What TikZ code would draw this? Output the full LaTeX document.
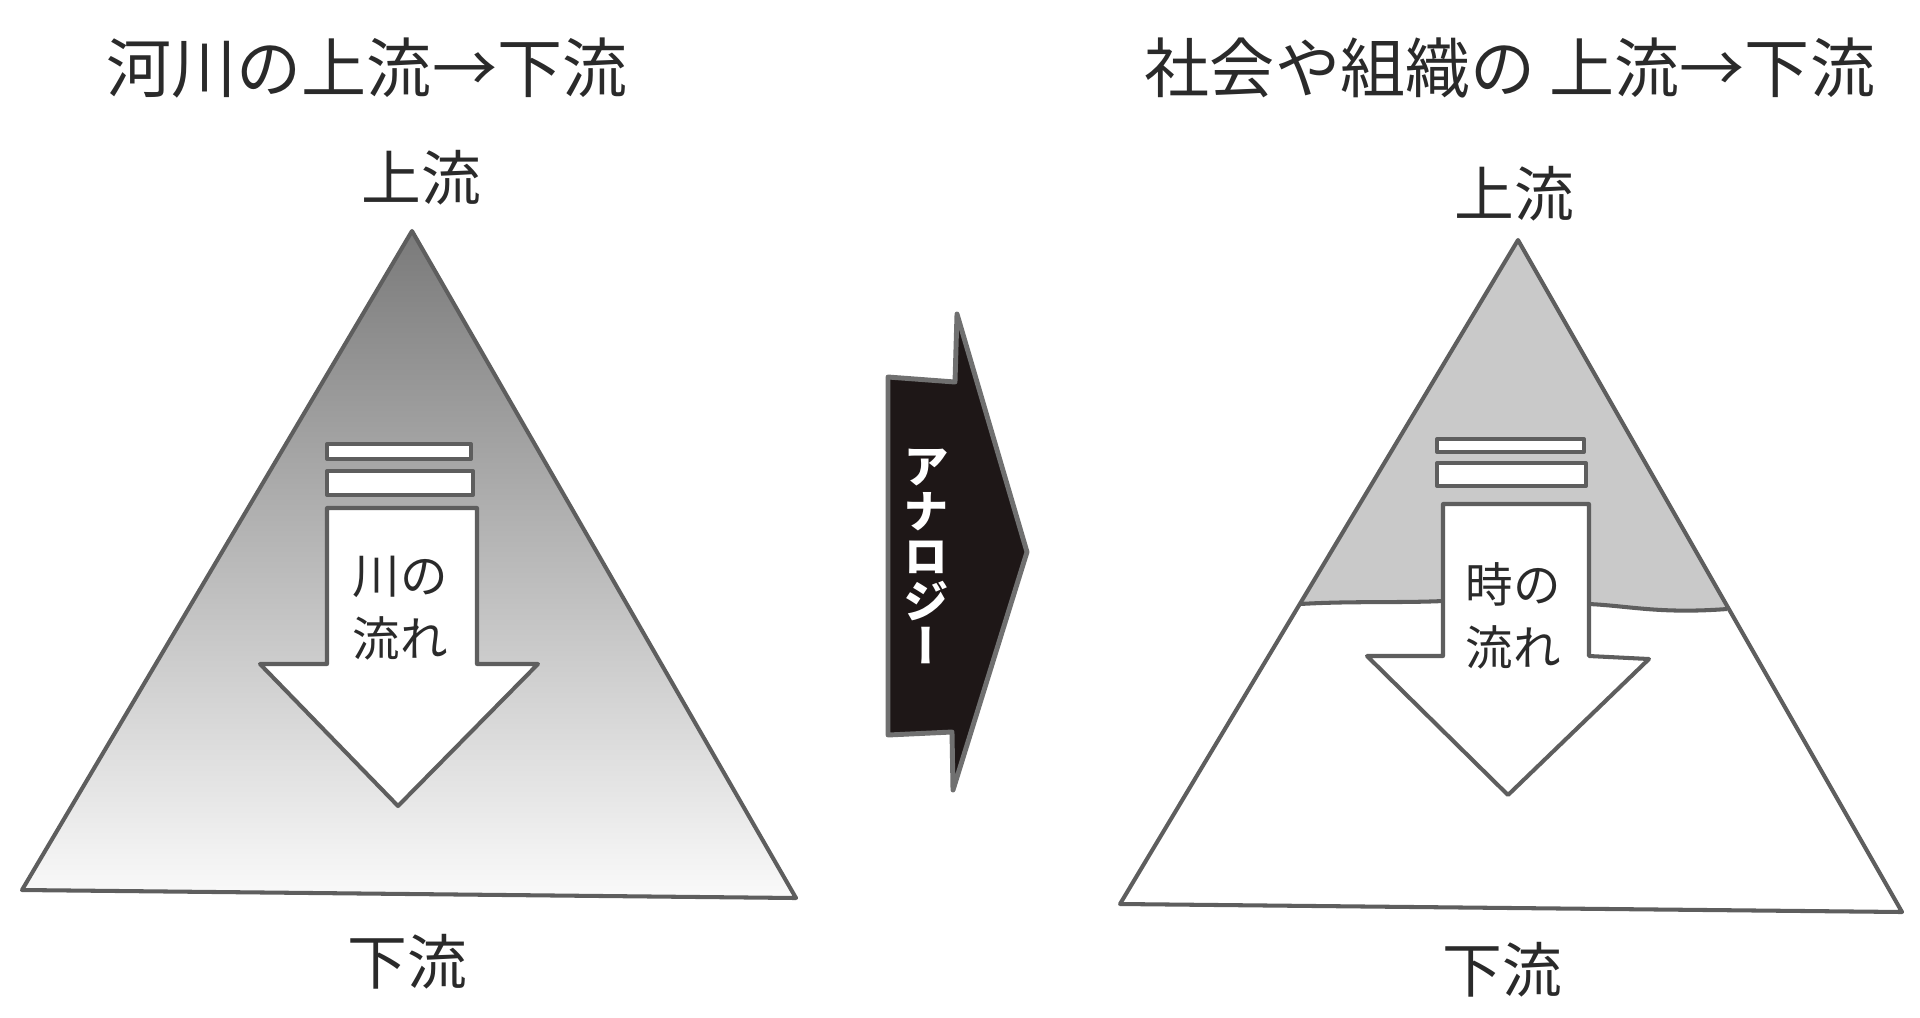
\documentclass[tikz,border=0pt]{standalone}
\usepackage{fontspec}
\setmainfont{Noto Sans CJK JP}
\newfontfamily\jpvert[RawFeature=+vert]{Noto Sans CJK JP}
\definecolor{ink}{HTML}{2A2A2A}
\definecolor{edgegray}{HTML}{5E5E5E}
\definecolor{topgray}{HTML}{C9C9C9}
\definecolor{darkfill}{HTML}{1E1717}
\definecolor{rimgray}{HTML}{707070}
\definecolor{shadetop}{HTML}{7A7A7A}
\definecolor{shadebot}{HTML}{FAFAFA}
\begin{document}
\begin{tikzpicture}[x=0.01cm,y=-0.01cm,
  outline/.style={draw=edgegray,line width=1.15pt,line join=round},
  barbox/.style={outline,fill=white},
  titletxt/.style={text=ink,font=\fontsize{18.5pt}{22pt}\selectfont,inner sep=0pt},
  labeltxt/.style={text=ink,font=\fontsize{17pt}{20pt}\selectfont,inner sep=0pt},
  flowtxt/.style={text=ink,font=\fontsize{13.5pt}{18pt}\selectfont,align=center,inner sep=0pt},
  anatxt/.style={text=white,font=\jpvert\bfseries\fontsize{13pt}{12.8pt}\selectfont,align=center,inner sep=0pt}]
\useasboundingbox (0,0) rectangle (1920,1017);

% ---------- left panel ----------
\node[titletxt] (titleL) at (367,68) {河川の上流→下流};
\coordinate (LA) at (412,231);
\coordinate (LB) at (22,890);
\coordinate (LC) at (796,898);
\shade[top color=shadetop,bottom color=shadebot] (LA) -- (LB) -- (LC) -- cycle;
\draw[outline] (LA) -- (LB) -- (LC) -- cycle;
\node[labeltxt] (upL) at (421,178) {上流};
\node[labeltxt] (downL) at (407,962) {下流};
\draw[barbox] (327,444) rectangle (471,459);
\draw[barbox] (327,471) rectangle (473,495);
\draw[barbox] (327,508) -- (477,508) -- (477,664) -- (538,664) -- (398,806) -- (260,664) -- (327,664) -- cycle;
\node[flowtxt] (flowL) at (400,608) {川の\\流れ};

% ---------- analogy arrow ----------
\draw[fill=darkfill,draw=rimgray,line width=1.4pt,line join=round]
  (888,377) -- (955,382) -- (957,314) -- (1027,552) -- (953,790) -- (952,732) -- (888,735) -- cycle;
\node[anatxt] (ana) at (926,556) {ア\\ナ\\ロ\\ジ\\ー};

% ---------- right panel ----------
\node[titletxt] (titleR) at (1510,68) {社会や組織の 上流→下流};
\coordinate (RA) at (1518,240);
\coordinate (RB) at (1120,904);
\coordinate (RC) at (1902,912);
\fill[white] (RA) -- (RB) -- (RC) -- cycle;
\fill[topgray] (RA) -- (1300,604) -- (1443,601) -- (1589,604)
  .. controls (1630,606) and (1660,614) .. (1727,609) -- cycle;
\draw[outline] (1300,604) .. controls (1350,601) and (1400,603) .. (1443,601);
\draw[outline] (1589,604) .. controls (1630,606) and (1660,614) .. (1727,609);
\draw[outline] (RA) -- (RB) -- (RC) -- cycle;
\node[labeltxt] (upR) at (1514,194) {上流};
\node[labeltxt] (downR) at (1502,970) {下流};
\draw[barbox] (1437,439) rectangle (1584,452);
\draw[barbox] (1437,463) rectangle (1586,486);
\draw[barbox] (1443,504) -- (1589,504) -- (1589,656) -- (1649,659) -- (1508,795) -- (1367,656) -- (1443,656) -- cycle;
\node[flowtxt] (flowR) at (1513,616) {時の\\流れ};
\end{tikzpicture}
\end{document}
